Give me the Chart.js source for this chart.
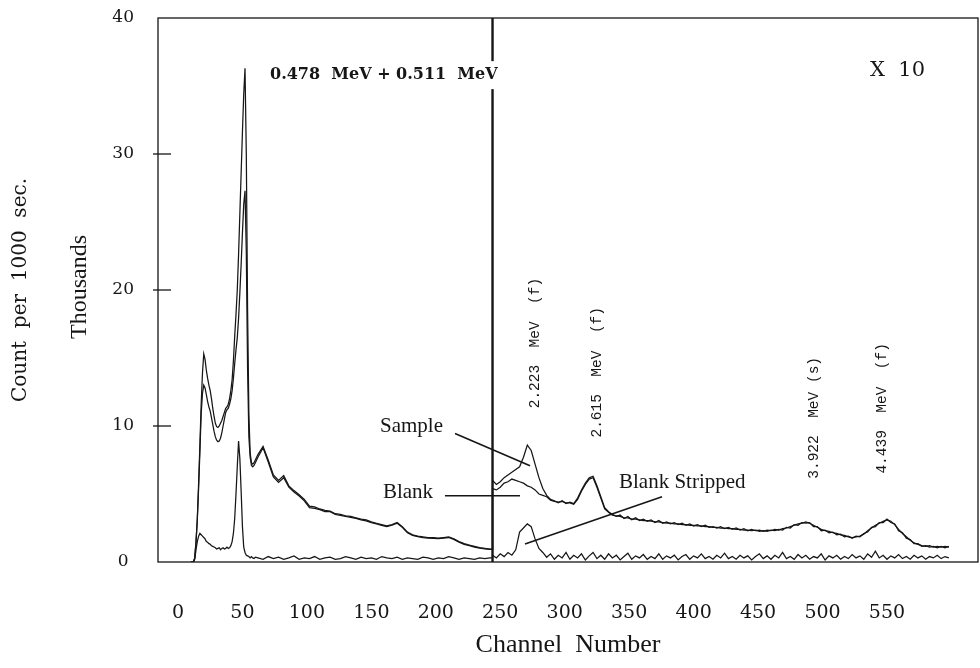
<!DOCTYPE html>
<html>
<head>
<meta charset="utf-8">
<script src="https://cdn.jsdelivr.net/npm/chart.js@4.4.1/dist/chart.umd.min.js"></script>
<style>
  body { margin: 0; background: #fff; }
  canvas { display: block; }
</style>
</head>
<body>
<canvas id="espectro" width="980" height="668"></canvas>
<script>
// channels of the spectrum (244 appears twice: left value, then the x10 value)
var canais = [
  10,11,12,13,14,15,16,17,18,19, 20,21,22,23,24,25,26,27,28,29,
  30,31,32,33,34,35,36,37,38,39, 40,41,42,43,44,45,46,47,48,49,
  50,51,52,53,54,55,56,57,58,59,60,
  62,66,70,74,78,82,86,90,94,98, 102,106,110,114,118,122,126,130,134,138,
  142,146,150,154,158,162,166,170,174,178, 182,186,190,194,198,202,206,210,214,218,
  222,226,230,234,238,242,
  244, 244,
  247,250,253,256,259,262,265,268,271,274, 277,280,283,286,289,292,295,298,301,304,
  307,310,313,316,319,322,325,328,331,334, 337,340,343,346,349,352,355,358,361,364,
  367,370,373,376,379,382,385,388,391,394, 397,400,403,406,409,412,415,418,421,424,
  427,430,433,436,439,442,445,448,451,454, 457,460,463,466,469,472,475,478,481,484,
  487,490,493,496,499,502,505,508,511,514, 517,520,523,526,529,532,535,538,541,544,
  547,550,553,556,559,562,565,568,571,574, 577,580,583,586,589,592,595,598
];

// counts in thousands; right of channel 244 the curves are drawn x10
var amostra = [
  0,0,0,0.3,1.5,3.2,5.8,8.6,11.6,13.9, 15.3,14.9,14.1,13.5,13.0,12.6,12.0,11.3,10.7,10.2,
  9.95,9.9,10.0,10.2,10.4,10.7,11.0,11.3,11.4,11.6, 12.0,12.6,13.4,14.8,16.6,18.2,20.0,22.6,25.6,28.6,
  31.6,34.4,36.3,30.0,18.5,10.8,8.0,7.3,7.2,7.3,7.5,
  7.9,8.5,7.5,6.4,6.0,6.35,5.6,5.25,4.95,4.6, 4.1,4.05,3.9,3.8,3.75,3.55,3.5,3.4,3.35,3.25,
  3.15,3.1,2.95,2.85,2.75,2.65,2.75,2.9,2.6,2.2, 2.0,1.9,1.85,1.8,1.8,1.75,1.8,1.85,1.7,1.5,
  1.35,1.25,1.15,1.05,1.0,0.95,
  0.95, 6.0,
  5.7,5.9,6.2,6.4,6.6,6.8,7.0,7.7,8.6,8.2, 7.2,6.2,5.4,4.9,4.6,4.5,4.35,4.5,4.3,4.4,
  4.3,4.7,5.3,5.8,6.2,6.3,5.6,4.8,4.0,3.7, 3.5,3.35,3.45,3.2,3.35,3.1,3.25,3.05,3.15,3.0,
  3.1,2.9,3.05,2.85,2.95,2.8,2.9,2.75,2.85,2.7, 2.8,2.65,2.75,2.6,2.7,2.55,2.6,2.5,2.6,2.45,
  2.55,2.4,2.5,2.35,2.45,2.3,2.4,2.3,2.35,2.25, 2.35,2.3,2.4,2.35,2.45,2.5,2.6,2.7,2.8,2.85,
  2.95,2.85,2.7,2.55,2.4,2.3,2.25,2.15,2.1,2.0, 1.95,1.85,1.8,1.85,1.9,2.05,2.3,2.5,2.7,2.85,
  3.0,3.1,3.0,2.75,2.4,2.1,1.85,1.6,1.4,1.3, 1.2,1.15,1.2,1.1,1.15,1.1,1.15,1.1
];

var branco = [
  0,0,0,0.3,1.5,3.1,5.4,8.1,10.9,12.4, 13.0,12.8,12.3,11.8,11.4,11.1,10.6,10.1,9.6,9.2,
  8.95,8.85,8.9,9.1,9.5,10.0,10.5,11.0,11.2,11.3, 11.6,12.0,12.6,13.5,14.6,15.6,16.5,17.9,19.8,21.9,
  24.2,26.3,27.3,22.8,14.2,9.2,7.7,7.1,7.0,7.1,7.3,
  7.7,8.4,7.35,6.25,5.85,6.2,5.5,5.15,4.85,4.5, 4.0,3.95,3.85,3.7,3.7,3.5,3.42,3.35,3.28,3.2,
  3.1,3.02,2.9,2.8,2.7,2.6,2.7,2.85,2.55,2.15, 1.95,1.86,1.8,1.76,1.74,1.72,1.76,1.8,1.66,1.46,
  1.3,1.21,1.1,1.02,0.96,0.92,
  0.92, 5.4,
  5.3,5.5,5.8,5.9,6.1,6.0,5.9,5.8,5.6,5.5, 5.3,5.0,4.9,4.8,4.55,4.45,4.4,4.45,4.35,4.35,
  4.25,4.6,5.2,5.7,6.1,6.2,5.5,4.7,3.9,3.65, 3.45,3.4,3.35,3.25,3.25,3.15,3.15,3.1,3.05,3.05,
  3.0,2.95,2.95,2.9,2.85,2.85,2.8,2.8,2.75,2.75, 2.7,2.7,2.65,2.65,2.6,2.6,2.55,2.55,2.5,2.5,
  2.45,2.45,2.4,2.4,2.35,2.35,2.3,2.35,2.25,2.3, 2.25,2.35,2.3,2.4,2.35,2.55,2.5,2.75,2.7,2.9,
  2.85,2.9,2.6,2.6,2.3,2.35,2.15,2.2,2.0,2.05, 1.85,1.9,1.75,1.9,1.85,2.1,2.2,2.55,2.6,2.9,
  2.9,3.15,2.9,2.8,2.3,2.15,1.75,1.65,1.35,1.35, 1.15,1.2,1.1,1.15,1.05,1.15,1.05,1.15
];

var subtraido = [
  0,0,0,0.2,0.9,1.5,1.9,2.1,2.0,1.9, 1.8,1.7,1.5,1.45,1.35,1.3,1.2,1.15,1.1,1.05,
  0.95,1.0,1.05,0.9,1.0,1.05,0.95,1.0,1.1,1.0, 1.05,1.2,1.5,2.1,3.2,5.0,7.0,8.9,7.6,5.2,
  2.6,1.1,0.7,0.5,0.45,0.4,0.3,0.4,0.3,0.25,0.35,
  0.3,0.2,0.4,0.25,0.35,0.2,0.3,0.45,0.2,0.3, 0.25,0.4,0.2,0.3,0.35,0.2,0.25,0.4,0.3,0.2,
  0.35,0.25,0.3,0.2,0.4,0.3,0.25,0.35,0.2,0.3, 0.25,0.2,0.35,0.3,0.2,0.3,0.25,0.4,0.3,0.2,
  0.3,0.25,0.2,0.3,0.25,0.3,
  0.3, 0.5,
  0.3,0.6,0.4,0.7,0.5,0.9,2.2,2.5,2.8,2.6, 1.7,1.0,0.7,0.35,0.6,0.2,0.5,0.3,0.7,0.2,
  0.5,0.3,0.6,0.15,0.45,0.7,0.25,0.5,0.2,0.6, 0.3,0.5,0.15,0.4,0.65,0.2,0.45,0.3,0.55,0.2,
  0.4,0.25,0.6,0.2,0.45,0.3,0.5,0.15,0.4,0.55, 0.2,0.45,0.3,0.6,0.25,0.4,0.2,0.5,0.3,0.65,
  0.25,0.4,0.2,0.5,0.3,0.45,0.15,0.4,0.6,0.25, 0.45,0.2,0.5,0.3,0.7,0.25,0.4,0.2,0.55,0.3,
  0.5,0.2,0.4,0.3,0.6,0.15,0.45,0.3,0.5,0.2, 0.4,0.25,0.55,0.3,0.45,0.2,0.6,0.35,0.8,0.3,
  0.5,0.2,0.45,0.3,0.55,0.25,0.4,0.2,0.5,0.3, 0.45,0.2,0.4,0.3,0.5,0.25,0.4,0.3
];

var ticksX = [0, 50, 100, 150, 200, 250, 300, 350, 400, 450, 500, 550];
var ticksY = [0, 10, 20, 30, 40];
var canalCorte = 244;

// peak labels (channel, thousands)
var picos = [
  { texto: '2.223  MeV  (f)', ch: 277, v: 16.1 },
  { texto: '2.615  MeV  (f)', ch: 325, v: 13.95 },
  { texto: '3.922  MeV (s)', ch: 493.4, v: 10.6 },
  { texto: '4.439  MeV  (f)', ch: 546, v: 11.3 }
];

// curve names with their leader lines
var legendas = [
  { texto: 'Sample', ch: 156.7, v: 9.96, de: [214.9, 9.45], ate: [273.1, 7.08] },
  { texto: 'Blank', ch: 159, v: 5.09, de: [207.1, 4.87], ate: [265.3, 4.87] },
  { texto: 'Blank Stripped', ch: 342.1, v: 5.83, de: [375.5, 4.8], ate: [269.2, 1.33] }
];

var tinta = '#161616';

function pontos(valores) {
    return canais.map(function (c, i) { return { x: c, y: valores[i] }; });
}

function serie(nome, valores) {
    return {
        label: nome,
        data: pontos(valores),
        borderColor: tinta,
        borderWidth: 1.25,
        pointRadius: 0,
        tension: 0,
        fill: false
    };
}

const extras = {
    id: 'extras',
    afterDraw(chart) {
        const ctx = chart.ctx;
        const a = chart.chartArea;
        const x = chart.scales.x;
        const y = chart.scales.y;

        function linha(x1, y1, x2, y2) {
            ctx.beginPath();
            ctx.moveTo(x1, y1);
            ctx.lineTo(x2, y2);
            ctx.stroke();
        }

        ctx.save();
        ctx.strokeStyle = tinta;
        ctx.fillStyle = tinta;

        // frame
        ctx.lineWidth = 1.3;
        ctx.strokeRect(a.left, a.top, a.right - a.left, a.bottom - a.top);

        // short ticks on the count axis
        ticksY.slice(1, -1).forEach(function (v) {
            const py = y.getPixelForValue(v);
            linha(a.left - 5, py, a.left + 13, py);
        });

        // x10 split
        const sx = x.getPixelForValue(canalCorte);
        ctx.lineWidth = 2.4;
        linha(sx, a.top, sx, a.bottom);

        // annihilation peak title, over a white patch
        ctx.font = 'bold 16px "DejaVu Serif"';
        ctx.textBaseline = 'middle';
        ctx.textAlign = 'left';
        const tx = x.getPixelForValue(71.4);
        const ty = y.getPixelForValue(35.8);
        const t1 = '0.478  MeV + 0.511  MeV';
        const w1 = ctx.measureText(t1).width;
        ctx.fillStyle = '#fff';
        ctx.fillRect(tx - 2, ty - 14, w1 + 4, 28);
        ctx.fillStyle = tinta;
        ctx.fillText(t1, tx, ty);

        ctx.font = '21px "DejaVu Serif"';
        ctx.fillText('X  10', x.getPixelForValue(536.8), y.getPixelForValue(36.1));

        // peak energies, vertical
        ctx.font = '14.5px "Liberation Mono"';
        ctx.textAlign = 'center';
        picos.forEach(function (p) {
            ctx.save();
            ctx.translate(x.getPixelForValue(p.ch), y.getPixelForValue(p.v));
            ctx.rotate(-Math.PI / 2);
            ctx.fillText(p.texto, 0, 0);
            ctx.restore();
        });

        // curve names
        ctx.font = '21px "Liberation Serif"';
        ctx.textAlign = 'left';
        ctx.lineWidth = 1.6;
        legendas.forEach(function (l) {
            ctx.fillText(l.texto, x.getPixelForValue(l.ch), y.getPixelForValue(l.v));
            linha(x.getPixelForValue(l.de[0]), y.getPixelForValue(l.de[1]),
                  x.getPixelForValue(l.ate[0]), y.getPixelForValue(l.ate[1]));
        });

        // second line of the count axis title
        ctx.font = '24px "Liberation Serif"';
        ctx.textAlign = 'center';
        ctx.save();
        ctx.translate(80, (a.top + a.bottom) / 2 - 3);
        ctx.rotate(-Math.PI / 2);
        ctx.fillText('Thousands', 0, 0);
        ctx.restore();

        ctx.restore();
    }
};

new Chart(document.getElementById('espectro'), {
    type: 'line',
    data: {
        datasets: [
            serie('Sample', amostra),
            serie('Blank', branco),
            serie('Blank Stripped', subtraido)
        ]
    },
    options: {
        responsive: false,
        animation: false,
        layout: { padding: { top: 18, right: 2, left: 0, bottom: 0 } },
        plugins: {
            legend: { display: false },
            tooltip: { enabled: false }
        },
        scales: {
            x: {
                type: 'linear',
                min: -15.5,
                max: 620.6,
                grid: { display: false },
                border: { display: false },
                afterBuildTicks: function (s) { s.ticks = ticksX.map(function (v) { return { value: v }; }); },
                afterFit: function (s) { s.height = 106; },
                ticks: {
                    color: tinta,
                    padding: 32,
                    maxRotation: 0,
                    autoSkip: false,
                    font: { family: '"DejaVu Serif"', size: 19 }
                },
                title: {
                    display: true,
                    text: 'Channel  Number',
                    color: tinta,
                    padding: { top: 0, bottom: 7 },
                    font: { family: '"Liberation Serif"', size: 26 }
                }
            },
            y: {
                min: 0,
                max: 40,
                grid: { display: false },
                border: { display: false },
                afterBuildTicks: function (s) { s.ticks = ticksY.map(function (v) { return { value: v }; }); },
                afterFit: function (s) {
                    s.width = 158;
                    // the label padding would otherwise push the plot down
                    s.paddingTop = 0;
                    s.paddingBottom = 0;
                },
                ticks: {
                    color: tinta,
                    padding: 16,
                    crossAlign: 'center',
                    font: { family: '"DejaVu Serif"', size: 17 }
                },
                title: {
                    display: true,
                    text: 'Count  per  1000  sec.',
                    color: tinta,
                    padding: { top: 9, bottom: 0 },
                    font: { family: '"DejaVu Serif"', size: 20 }
                }
            }
        }
    },
    plugins: [extras]
});
</script>
</body>
</html>
